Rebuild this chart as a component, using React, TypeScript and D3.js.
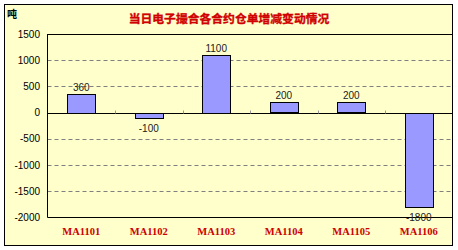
import React from "react";
import * as d3 from "d3";

const categories = ["MA1101", "MA1102", "MA1103", "MA1104", "MA1105", "MA1106"];
const values = [360, -100, 1100, 200, 200, -1800];
const yTicks = [1500, 1000, 500, 0, -500, -1000, -1500, -2000];
const gridValues = [1000, 500, -500, -1000, -1500];
const title = "当日电子撮合各合约仓单增减变动情况";
const unit = "吨";

const W = 458;
const H = 250;
const frame = { x0: 4.5, y0: 4.5, x1: 452.5, y1: 245.5 };
const plot = { left: 47.5, right: 452.5, top: 34, bottom: 217.5 };

export default function App() {
  const x = d3.scaleBand<string>().domain(categories).range([plot.left, plot.right]).padding(0);
  const y = d3.scaleLinear().domain([-2000, 1500]).range([plot.bottom, plot.top]);
  const bw = x.bandwidth() * 0.415;
  const y0 = Math.round(y(0)) + 0.5;

  return (
    <svg width={W} height={H} style={{ position: "absolute", left: 0, top: 0 }}>
      <rect x={0} y={0} width={W} height={H} fill="#ffffff" />
      <rect x={frame.x0} y={frame.y0} width={frame.x1 - frame.x0} height={frame.y1 - frame.y0} fill="#ffffcc" stroke="#000" strokeWidth={1} />
      <text x={7} y={18} fontFamily="Noto Sans CJK SC" fontSize={10} fontWeight="bold" fill="#000">{unit}</text>
      <text x={229} y={22.5} textAnchor="middle" fontFamily="Noto Sans CJK SC" fontSize={11.8} fontWeight="bold" fill="#d00000" stroke="#d00000" strokeWidth={0.35}>{title}</text>

      {gridValues.map((v) => (
        <line key={v} x1={plot.left} x2={plot.right} y1={Math.round(y(v)) + 0.5} y2={Math.round(y(v)) + 0.5} stroke="#808080" strokeDasharray="4,3" strokeWidth={1} />
      ))}

      <line x1={plot.left} x2={frame.x1} y1={plot.top + 0.5} y2={plot.top + 0.5} stroke="#000" />
      <line x1={plot.left} x2={plot.left} y1={plot.top} y2={plot.bottom} stroke="#000" />
      <line x1={plot.left} x2={frame.x1} y1={plot.bottom} y2={plot.bottom} stroke="#000" />

      {yTicks.map((v) => (
        <text key={v} x={40} y={y(v) + 3.5} textAnchor="end" fontFamily="Liberation Sans" fontSize={10} fill="#000">
          {v < 0 ? "-" + Math.abs(v) : v}
        </text>
      ))}

      {values.map((v, i) => {
        const cx = (x(categories[i]) as number) + x.bandwidth() / 2;
        const top = Math.min(y(v), y(0));
        const h = Math.abs(y(v) - y(0));
        return (
          <g key={i}>
            <rect x={Math.round(cx - bw / 2) + 0.5} y={Math.round(top) + 0.5} width={Math.round(bw)} height={Math.round(h)} fill="#9999ff" stroke="#000" strokeWidth={1} />
            <text x={cx} y={v >= 0 ? y(v) - 3 : y(v) + 14} textAnchor="middle" fontFamily="Liberation Sans" fontSize={10} fill="#222">
              {v < 0 ? "-" + Math.abs(v) : v}
            </text>
          </g>
        );
      })}

      <line x1={plot.left} x2={frame.x1} y1={y0} y2={y0} stroke="#000" />
      {categories.slice(1).map((c) => (
        <line key={c} x1={Math.round(x(c) as number) + 0.5} x2={Math.round(x(c) as number) + 0.5} y1={y0 - 3} y2={y0} stroke="#999" />
      ))}

      {categories.map((c) => (
        <text key={c} x={(x(c) as number) + x.bandwidth() / 2} y={234.5} textAnchor="middle" fontFamily="Liberation Serif" fontSize={10.5} fontWeight="bold" fill="#cc0000">
          {c}
        </text>
      ))}
    </svg>
  );
}
